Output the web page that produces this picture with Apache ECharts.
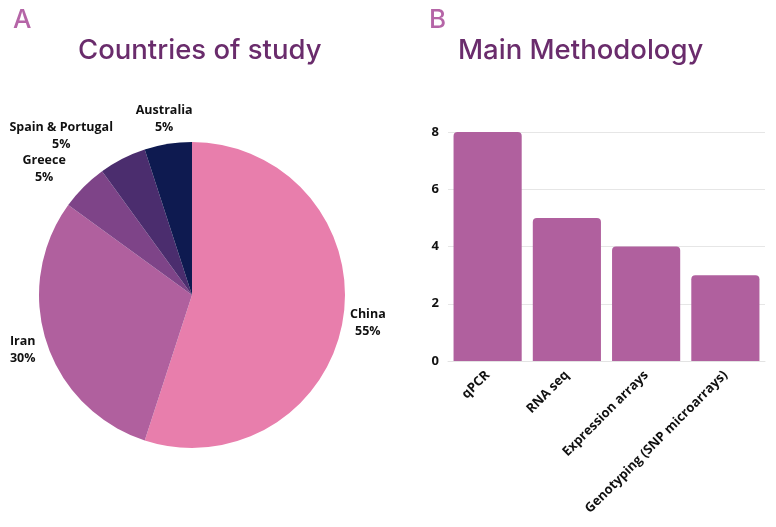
<!DOCTYPE html>
<html>
<head>
<meta charset="utf-8">
<script src="https://cdn.jsdelivr.net/npm/echarts@6/dist/echarts.min.js"></script>
<style>
  html, body { margin: 0; padding: 0; background: #fff; }
  #main { width: 776px; height: 527px; }
</style>
</head>
<body>
<div id="main"></div>
<script>
// pie data (percent of studies)
var countries = ['China', 'Iran', 'Greece', 'Spain & Portugal', 'Australia'];
var countryShare = [55, 30, 5, 5, 5];
var countryColors = ['#E87EAC', '#B0609E', '#7E4488', '#4B2D6E', '#0E1A50'];

// bar data (number of studies)
var methods = ['qPCR', 'RNA seq', 'Expression arrays', 'Genotyping (SNP microarrays)'];
var methodCounts = [8, 5, 4, 3];

var titleColor = '#6A2C6C';
var letterColor = '#B565A7';
var labelFont = '"Open Sans", "Noto Sans", sans-serif';

var pieCenter = [192, 295];
var pieRadius = 153;
var labelRadius = 178;
// sideways nudge for the crowded small slices
var labelNudge = [0, 0, -22, -50, 0];

var chart = echarts.init(document.getElementById('main'));

var pieData = countries.map(function (name, i) {
  return { name: name, value: countryShare[i], itemStyle: { color: countryColors[i] } };
});

var total = countryShare.reduce(function (a, b) { return a + b; }, 0);
var midAngles = [];
var acc = 0;
countryShare.forEach(function (v) {
  midAngles.push((acc + v / 2) / total * Math.PI * 2);
  acc += v;
});

var lbl = { align: 'center', color: '#111', fontWeight: 'bold', fontSize: 12.5, lineHeight: 17, fontFamily: labelFont };

chart.setOption({
  animation: false,
  title: [
    { text: 'A', left: 8, top: 2, textStyle: { color: letterColor, fontSize: 26, fontWeight: 500, fontFamily: 'Inter, sans-serif' } },
    { text: 'B', left: 424, top: 2, textStyle: { color: letterColor, fontSize: 26, fontWeight: 500, fontFamily: 'Inter, sans-serif' } },
    { text: 'Countries of study', left: 73, top: 32, textStyle: { color: titleColor, fontSize: 27.5, fontWeight: 500, fontFamily: 'Inter, sans-serif' } },
    { text: 'Main Methodology', left: 453, top: 32, textStyle: { color: titleColor, fontSize: 27.5, fontWeight: 500, fontFamily: 'Inter, sans-serif' } }
  ],
  grid: { left: 448, right: 11, top: 132, bottom: 166 },
  xAxis: {
    type: 'category',
    data: methods,
    axisLine: { show: true, lineStyle: { color: '#E3E3E3' } },
    axisTick: { show: false },
    axisLabel: {
      rotate: 45,
      interval: 0,
      margin: 12,
      color: '#111',
      fontWeight: 'bold',
      fontSize: 13,
      fontFamily: labelFont
    }
  },
  yAxis: {
    type: 'value',
    min: 0,
    max: 8,
    interval: 2,
    axisLine: { show: false },
    axisTick: { show: false },
    splitLine: { lineStyle: { color: '#E6E6E6' } },
    axisLabel: { color: '#111', fontWeight: 'bold', fontSize: 13, margin: 9, fontFamily: labelFont }
  },
  series: [
    {
      type: 'pie',
      center: pieCenter,
      radius: [0, pieRadius],
      startAngle: 90,
      clockwise: true,
      avoidLabelOverlap: false,
      data: pieData,
      label: {
        show: true,
        position: 'outside',
        overflow: 'none',
        formatter: '{t|{b}}\n{t|{d}%}',
        rich: { t: lbl }
      },
      labelLine: { show: false },
      labelLayout: function (params) {
        var i = params.dataIndex;
        var a = midAngles[i];
        return {
          x: pieCenter[0] + Math.sin(a) * labelRadius + labelNudge[i],
          y: pieCenter[1] - Math.cos(a) * labelRadius,
          align: 'center',
          verticalAlign: 'middle'
        };
      }
    },
    {
      type: 'bar',
      data: methodCounts,
      barCategoryGap: '14%',
      itemStyle: { color: '#B0609E', borderRadius: [4, 4, 0, 0] }
    }
  ]
});
</script>
</body>
</html>
